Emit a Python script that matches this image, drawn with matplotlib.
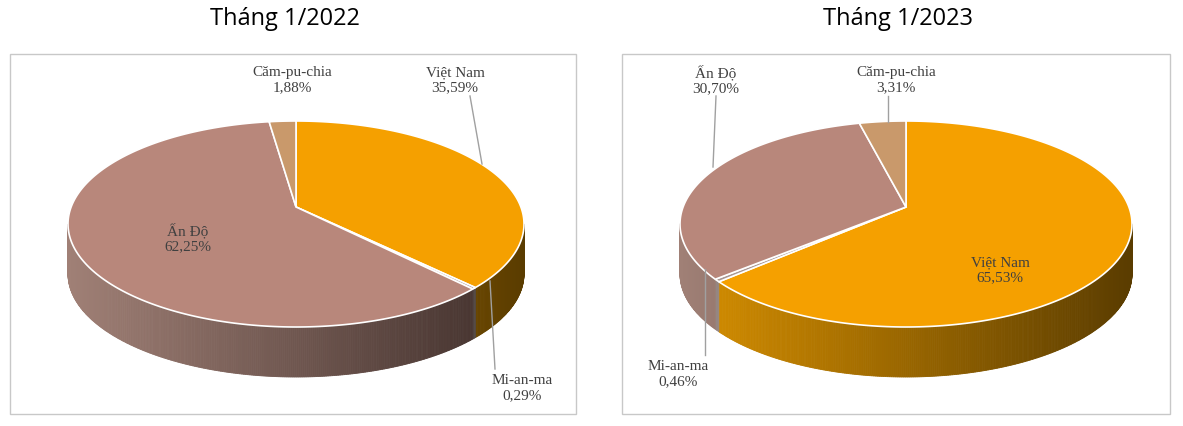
import numpy as np
import matplotlib.pyplot as plt
from matplotlib.patches import Polygon, Rectangle
import matplotlib.colors as mc

countries = ["Việt Nam", "Mi-an-ma", "Ấn Độ", "Căm-pu-chia"]
share_2022 = [35.59, 0.29, 62.25, 1.88]
share_2023 = [65.53, 0.46, 30.70, 3.31]
titles = ["Tháng 1/2022", "Tháng 1/2023"]

top_colors = ["#F5A000", "#A99893", "#B8877B", "#C9996B"]
side_colors = [("#D89000", "#5A3C00"), ("#9C8C88", "#4A403C"),
               ("#A08076", "#3E2D29"), ("#B08660", "#5A4028")]

fig = plt.figure(figsize=(11.83, 4.27), dpi=100)
ax = fig.add_axes([0, 0, 1, 1])
ax.set_xlim(0, 1183)
ax.set_ylim(427, 0)
ax.axis("off")

lab_font = dict(family="Liberation Serif", fontsize=11, color="#404040", ha="center", va="center")


def pie3d(cx, cy, rx, ry, depth, values, vy):
    # vy: screen y of the slice vertex (perspective offset)
    total = sum(values)
    start = 90.0
    bounds = []
    for v in values:
        end = start - 360.0 * v / total
        bounds.append((start, end))
        start = end
    # side
    for i, (a0, a1) in enumerate(bounds):
        th = np.linspace(a0, a1, max(3, int(abs(a0 - a1) * 2)))
        for t0, t1 in zip(th[:-1], th[1:]):
            tm = np.radians((t0 + t1) / 2)
            if np.sin(tm) > 0:
                continue
            r0, r1 = np.radians(t0), np.radians(t1)
            x0, x1 = cx + rx * np.cos(r0), cx + rx * np.cos(r1)
            y0, y1 = cy - ry * np.sin(r0), cy - ry * np.sin(r1)
            f = (np.cos(tm) + 1) / 2
            c = mc.to_rgb(side_colors[i][0]), mc.to_rgb(side_colors[i][1])
            col = [c[0][k] * (1 - f) + c[1][k] * f for k in range(3)]
            ax.add_patch(Polygon([(x0, y0), (x1, y1), (x1, y1 + depth), (x0, y0 + depth)],
                                 closed=True, fc=col, ec=col, lw=0.6))
    # top
    for i, (a0, a1) in enumerate(bounds):
        th = np.radians(np.linspace(a0, a1, 200))
        pts = [(cx, vy)] + list(zip(cx + rx * np.cos(th), cy - ry * np.sin(th)))
        ax.add_patch(Polygon(pts, closed=True, fc=top_colors[i], ec="white", lw=1.2))


for x0, w in [(10, 566), (622, 548)]:
    ax.add_patch(Rectangle((x0, 55), w, 360, fill=False, ec="#C8C8C8", lw=1))
ax.text(285, 19, titles[0], fontsize=17, family="Open Sans", ha="center", va="center")
ax.text(898, 19, titles[1], fontsize=17, family="Open Sans", ha="center", va="center")

pie3d(296, 225, 228, 103, 50, share_2022, 208)
pie3d(906, 225, 226, 103, 50, share_2023, 208)


def fmt(v):
    return f"{v:.2f}".replace(".", ",") + "%"

lc = "#A0A0A0"
ax.text(455, 80, f"{countries[0]}\n{fmt(share_2022[0])}", **lab_font)
ax.plot([482, 470], [165, 97], color=lc, lw=1)
ax.text(292, 80, f"{countries[3]}\n{fmt(share_2022[3])}", **lab_font)
ax.text(188, 238, f"{countries[2]}\n{fmt(share_2022[2])}", **lab_font)
ax.text(522, 388, f"{countries[1]}\n{fmt(share_2022[1])}", **lab_font)
ax.plot([490, 495], [282, 370], color=lc, lw=1)
ax.text(716, 80, f"{countries[2]}\n{fmt(share_2023[2])}", **lab_font)
ax.plot([716, 713], [97, 168], color=lc, lw=1)
ax.text(896, 80, f"{countries[3]}\n{fmt(share_2023[3])}", **lab_font)
ax.plot([888, 888], [97, 123], color=lc, lw=1)
ax.text(1000, 270, f"{countries[0]}\n{fmt(share_2023[0])}", **lab_font)
ax.text(678, 374, f"{countries[1]}\n{fmt(share_2023[1])}", **lab_font)
ax.plot([705, 705], [270, 356], color=lc, lw=1)

fig.savefig("out.png", dpi=100)
